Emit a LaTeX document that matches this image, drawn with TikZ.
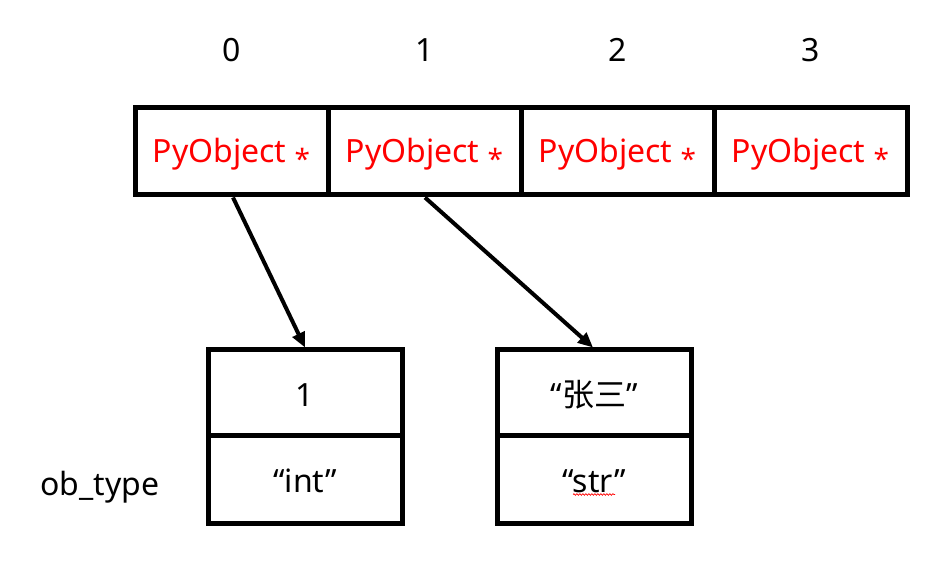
\documentclass[tikz,border=0pt]{standalone}
\usepackage{fontspec}
\setmainfont{Noto Sans}
\newfontfamily\cjk{Noto Sans CJK SC}
\usetikzlibrary{arrows.meta,decorations.pathmorphing}

\tikzset{
    cell/.style={draw, line width=5pt, minimum width=193pt, minimum height=87pt, inner sep=0pt,
        text height=23pt, text depth=0pt},
    ptr/.style={line width=4pt, -{Triangle[length=15pt,width=13pt]}},
}

\begin{document}
\begin{tikzpicture}[x=1pt,y=-1pt,font=\fontsize{32}{38}\selectfont]
\useasboundingbox (0,0) rectangle (946,569);
% the array of pointers
\foreach \i/\x in {0/231.5, 1/424.5, 2/617.5, 3/810.5} {
    \node[anchor=base] (idx\i) at (\x,62) {\i};
    \node[cell] (slot\i) at (\x,151.5) {\textcolor{red}{PyObject \raisebox{-6.5pt}{\fontsize{28}{30}\selectfont *}}};
}
% the objects
\foreach \j/\x/\v/\t in {0/305/1/int, 1/594/{“{\cjk 张三}”}/str} {
    \node[cell, minimum width=194pt, minimum height=86pt, text height=28pt] (val\j) at (\x,393) {\v};
    \node[cell, minimum width=194pt, minimum height=87pt, text height=27pt] (type\j) at (\x,479.5) {“\t”};
}
\node[anchor=base] (obtype) at (100,495) {ob\_type};
\draw[ptr] ([xshift=1.5pt]slot0.south) -- (val0.north);
\draw[ptr] ([xshift=0.5pt]slot1.south) -- ([xshift=-1pt]val1.north);
% spell check mark
\draw[red, line width=0.7pt, decorate, decoration={snake, amplitude=0.8pt, segment length=3pt}]
    ([xshift=-21pt,yshift=-15pt]type1.center) -- ([xshift=21pt,yshift=-15pt]type1.center);
\end{tikzpicture}
\end{document}
